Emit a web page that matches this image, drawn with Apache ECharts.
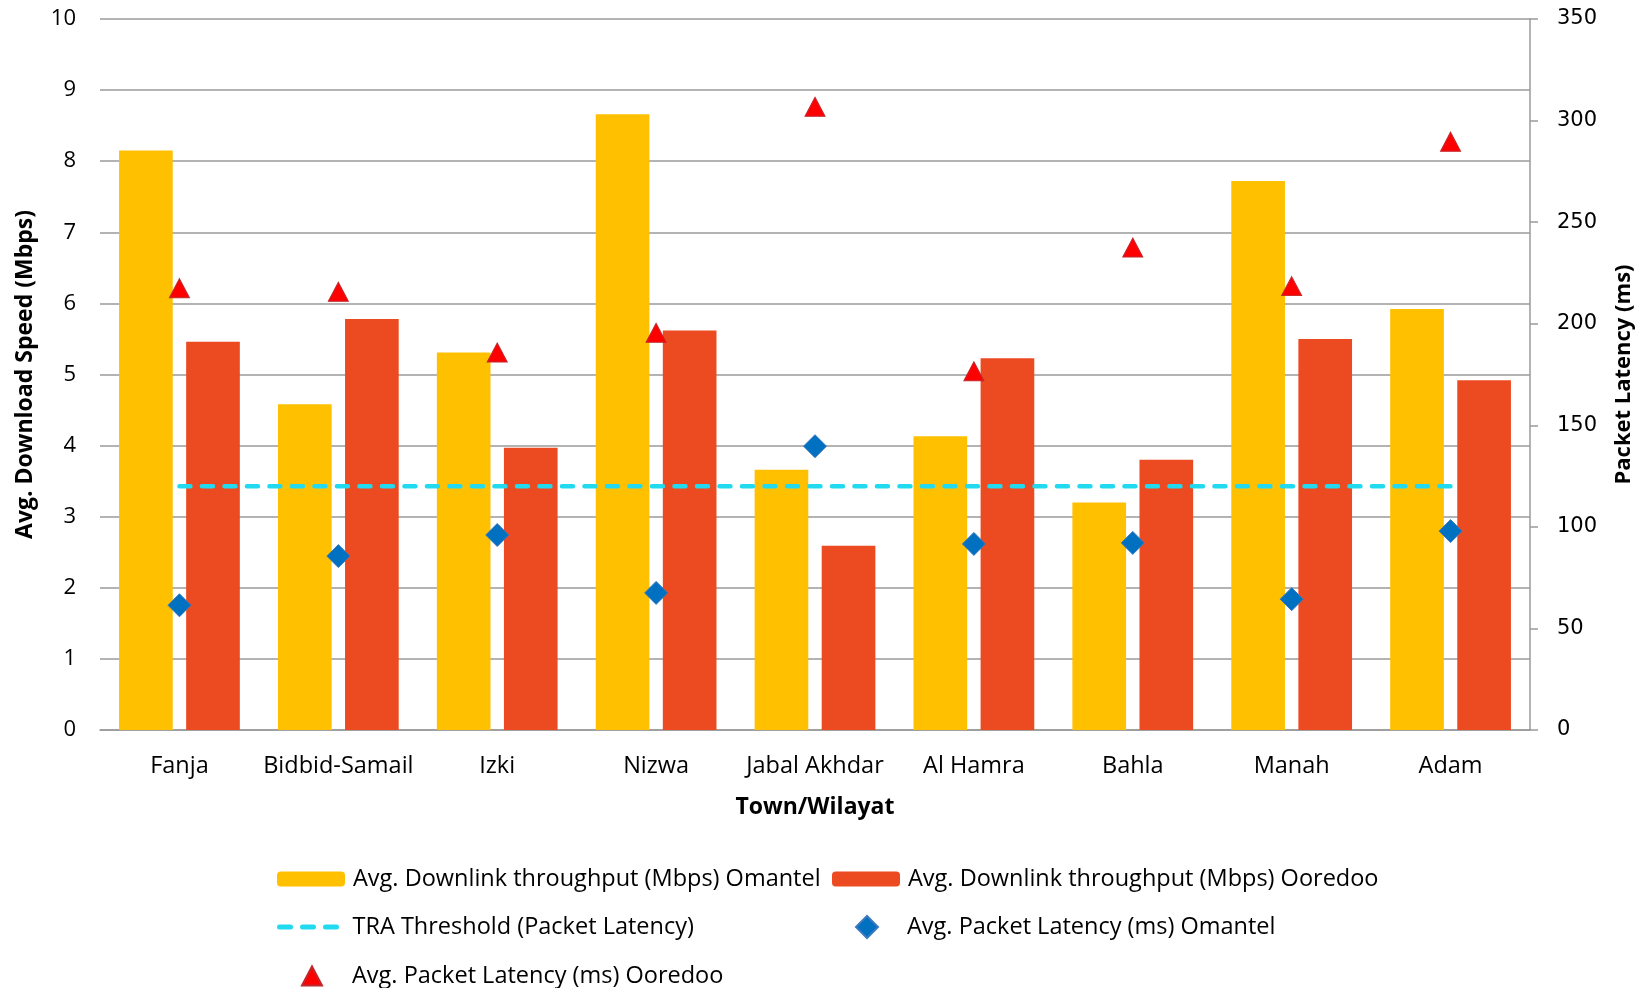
<!DOCTYPE html>
<html>
<head>
<meta charset="utf-8">
<script src="https://cdn.jsdelivr.net/npm/echarts@6/dist/echarts.min.js"></script>
<style>
html,body{margin:0;padding:0;background:#fff;}
#chart{width:1651px;height:988px;}
</style>
</head>
<body>
<div id="chart"></div>
<script>
const categories = ['Fanja','Bidbid-Samail','Izki','Nizwa','Jabal Akhdar','Al Hamra','Bahla','Manah','Adam'];
const omantelSpeed = [8.15,4.58,5.31,8.66,3.66,4.13,3.20,7.72,5.92];
const ooredooSpeed = [5.46,5.78,3.97,5.62,2.59,5.23,3.80,5.50,4.92];
const traThreshold = [120,120,120,120,120,120,120,120,120];
const omantelLatency = [61.4,85.6,96.0,67.5,139.7,91.6,92.1,64.4,97.9];
const ooredooLatency = [217.5,215.7,185.8,195.5,306.8,176.6,237.5,218.5,289.6];

const names = [
  'Avg. Downlink throughput (Mbps) Omantel',
  'Avg. Downlink throughput (Mbps) Ooredoo',
  'TRA Threshold (Packet Latency)',
  'Avg. Packet Latency (ms) Omantel',
  'Avg. Packet Latency (ms) Ooredoo'
];

const FONT = '"Open Sans", sans-serif';
function lg(name, left, cy, w, h, padLeft, extra) {
  return Object.assign({
    data: [name], left: left, top: cy - 16, padding: 0,
    itemWidth: w, itemHeight: h,
    textStyle: {fontFamily: FONT, fontSize: 23.5, color: '#000', padding: [0,0,0,padLeft]},
    selectedMode: false
  }, extra || {});
}

const chart = echarts.init(document.getElementById('chart'));
chart.setOption({
  animation: false,
  backgroundColor: '#fff',
  grid: {left: 100, right: 121, top: 19, bottom: 258, containLabel: false},
  legend: [
    lg(names[0], 277, 883, 68, 15, 3),
    lg(names[1], 832, 883, 68, 15, 3),
    lg(names[2], 277, 931, 68, 15, 0, {
      itemStyle: {color: 'rgba(0,0,0,0)', borderWidth: 0},
      lineStyle: {color: '#22DAF0', width: 5, type: [11, 12], cap: 'round'}
    }),
    lg(names[3], 855, 931, 22, 22, 24),
    lg(names[4], 301, 980, 20, 19, 25)
  ],
  xAxis: {
    type: 'category', data: categories,
    name: 'Town/Wilayat', nameLocation: 'middle', nameGap: 66,
    nameTextStyle: {fontFamily: FONT, fontSize: 23, fontWeight: 'bold', color: '#000'},
    axisLine: {lineStyle: {color: '#9a9a9a', width: 1.5}},
    axisTick: {show: false},
    axisLabel: {fontFamily: FONT, fontSize: 23.5, color: '#000', margin: 24, interval: 0}
  },
  yAxis: [
    {
      type: 'value', min: 0, max: 10, interval: 1,
      name: 'Avg. Download Speed (Mbps)', nameLocation: 'middle', nameGap: 63, nameRotate: 90,
      nameTextStyle: {fontFamily: FONT, fontSize: 23, fontWeight: 'bold', color: '#000'},
      axisLine: {show: false}, axisTick: {show: false},
      axisLabel: {fontFamily: FONT, fontSize: 22, color: '#000', margin: 24},
      splitLine: {lineStyle: {color: '#9a9a9a', width: 1.5}}
    },
    {
      type: 'value', min: 0, max: 350, interval: 50, position: 'right',
      name: 'Packet Latency (ms)', nameLocation: 'middle', nameGap: 83, nameRotate: 90,
      nameTextStyle: {fontFamily: FONT, fontSize: 22, fontWeight: 'bold', color: '#000'},
      axisLine: {show: true, lineStyle: {color: '#9a9a9a', width: 1.5}},
      axisTick: {show: true, inside: false, length: 8, lineStyle: {color: '#9a9a9a', width: 1.5}},
      axisLabel: {fontFamily: '"DejaVu Sans", sans-serif', fontSize: 21, color: '#000', margin: 27},
      splitLine: {show: false}
    }
  ],
  series: [
    {
      name: names[0], type: 'bar', data: omantelSpeed, yAxisIndex: 0,
      barGap: '25%', barCategoryGap: '24%',
      itemStyle: {color: '#FFC000'}, z: 2
    },
    {
      name: names[1], type: 'bar', data: ooredooSpeed, yAxisIndex: 0,
      barGap: '25%', barCategoryGap: '24%',
      itemStyle: {color: '#EC4A20'}, z: 2
    },
    {
      name: names[2], type: 'line', data: traThreshold, yAxisIndex: 1,
      symbol: 'none', z: 4,
      lineStyle: {color: '#22DAF0', width: 4.5, type: [11, 11.5], cap: 'round'},
      itemStyle: {color: '#22DAF0'}
    },
    {
      name: names[3], type: 'scatter', data: omantelLatency, yAxisIndex: 1,
      symbol: 'diamond', symbolSize: [23, 23], z: 5,
      itemStyle: {color: '#0070C0', borderColor: '#3A78C0', borderWidth: 1, opacity: 1}
    },
    {
      name: names[4], type: 'scatter', data: ooredooLatency, yAxisIndex: 1,
      symbol: 'triangle', symbolSize: [20, 19], z: 5,
      itemStyle: {color: '#FF0000', borderColor: '#C0282D', borderWidth: 1, opacity: 1}
    }
  ]
});
</script>
</body>
</html>
